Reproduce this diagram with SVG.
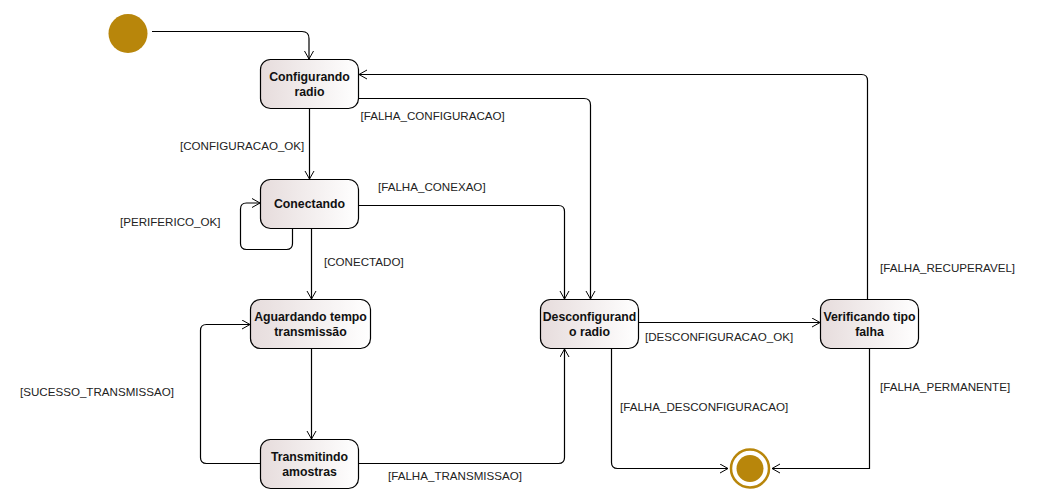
<svg xmlns="http://www.w3.org/2000/svg" width="1037" height="503" viewBox="0 0 1037 503">
<defs>
<linearGradient id="g" x1="0" y1="0" x2="1" y2="0">
<stop offset="0" stop-color="#e6dcdc"/>
<stop offset="1" stop-color="#ffffff"/>
</linearGradient>
<marker id="a" markerUnits="userSpaceOnUse" markerWidth="12" markerHeight="12" refX="9" refY="5" orient="auto">
<path d="M1,0.5 L9,5 L1,9.5" fill="none" stroke="#000" stroke-width="1"/>
</marker>
<style>
.n{fill:url(#g);stroke:#000;stroke-width:1.2}
.t{font-family:"Liberation Sans",Arial,sans-serif;font-size:12.3px;font-weight:bold;fill:#111;text-anchor:middle}
.l{font-family:"Liberation Sans",Arial,sans-serif;font-size:11.6px;fill:#222}
.c{fill:none;stroke:#000;stroke-width:1.2;marker-end:url(#a)}
</style>
</defs>
<rect width="1037" height="503" fill="#fff"/>
<g id="start"><circle cx="128" cy="33.5" r="19.5" fill="#b8860b"/></g>
<g id="end"><circle cx="750" cy="468.5" r="19" fill="none" stroke="#b8860b" stroke-width="2.5"/><circle cx="750" cy="468.5" r="13.5" fill="#b8860b"/></g>
<g id="configurando"><rect class="n" x="260.5" y="59.5" width="98" height="49" rx="10"/><text class="t" x="309.5" y="81">Configurando</text><text class="t" x="309.5" y="96">radio</text></g>
<g id="conectando"><rect class="n" x="260.5" y="179.5" width="98" height="49" rx="10"/><text class="t" x="309.5" y="208">Conectando</text></g>
<g id="aguardando"><rect class="n" x="250.5" y="299.5" width="120" height="49" rx="10"/><text class="t" x="310.5" y="321">Aguardando tempo</text><text class="t" x="310.5" y="336">transmissão</text></g>
<g id="transmitindo"><rect class="n" x="260.5" y="439.5" width="98" height="49" rx="10"/><text class="t" x="309.5" y="461">Transmitindo</text><text class="t" x="309.5" y="476">amostras</text></g>
<g id="desconfigurando"><rect class="n" x="540.5" y="299.5" width="98" height="49" rx="10"/><text class="t" x="589.5" y="321">Desconfigurand</text><text class="t" x="589.5" y="336">o radio</text></g>
<g id="verificando"><rect class="n" x="820.5" y="299.5" width="98" height="49" rx="10"/><text class="t" x="869.5" y="321">Verificando tipo</text><text class="t" x="869.5" y="336">falha</text></g>
<g id="connectors">
<path class="c" d="M152,31.5 H302 Q309,31.5 309,38.5 V59"/>
<path class="c" d="M309.5,108.5 V179"/>
<path class="c" d="M292.5,229 V243.5 Q292.5,249.5 286.5,249.5 H246.5 Q240.5,249.5 240.5,243.5 V209 Q240.5,203 246.5,203 H260"/>
<path class="c" d="M311.5,229 V299"/>
<path class="c" d="M311.5,349 V439"/>
<path class="c" d="M260,463.5 H206.5 Q200.5,463.5 200.5,457.5 V330.5 Q200.5,324.5 206.5,324.5 H250"/>
<path class="c" d="M359,463.5 H558.5 Q564.5,463.5 564.5,457.5 V349"/>
<path class="c" d="M359,98.5 H584 Q590.5,98.5 590.5,105 V299"/>
<path class="c" d="M359,205.5 H558.5 Q564.5,205.5 564.5,211.5 V299"/>
<path class="c" d="M639,322.5 H820"/>
<path class="c" d="M867.5,299 V80.5 Q867.5,74.5 861.5,74.5 H359"/>
<path class="c" d="M611.5,349 V462.5 Q611.5,468.5 617.5,468.5 H728"/>
<path class="c" d="M869.5,349 V468.5 H772"/>
</g>
<g id="labels">
<text class="l" x="360.5" y="120">[FALHA_CONFIGURACAO]</text>
<text class="l" x="180" y="150">[CONFIGURACAO_OK]</text>
<text class="l" x="378" y="191">[FALHA_CONEXAO]</text>
<text class="l" x="120" y="226">[PERIFERICO_OK]</text>
<text class="l" x="324" y="266">[CONECTADO]</text>
<text class="l" x="645" y="341">[DESCONFIGURACAO_OK]</text>
<text class="l" x="20" y="396">[SUCESSO_TRANSMISSAO]</text>
<text class="l" x="388" y="480">[FALHA_TRANSMISSAO]</text>
<text class="l" x="620" y="411">[FALHA_DESCONFIGURACAO]</text>
<text class="l" x="880" y="391">[FALHA_PERMANENTE]</text>
<text class="l" x="880" y="272">[FALHA_RECUPERAVEL]</text>
</g>
</svg>
